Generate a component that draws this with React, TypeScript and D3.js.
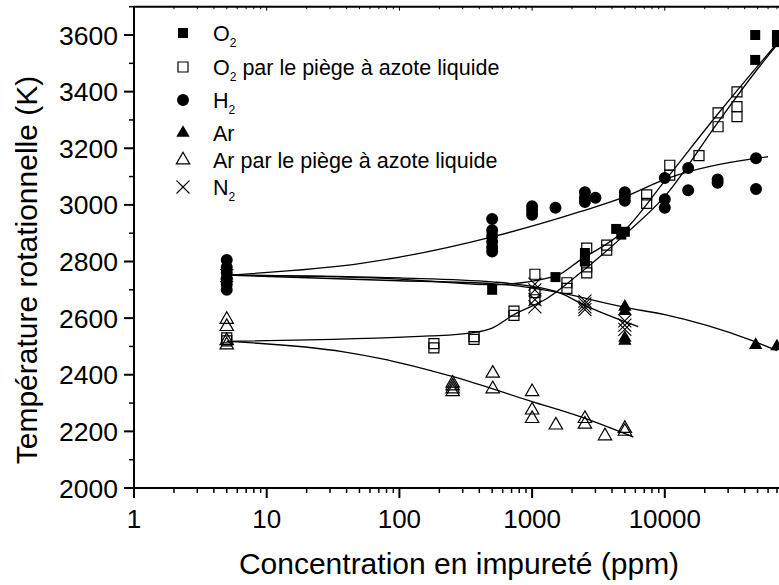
import React from "react";
import * as d3 from "d3";

// ---- data ----
const o2X = [5, 500, 1500, 2500, 2500, 4300, 4700, 5000, 48000, 48000, 70000, 70000];
const o2Y = [2750, 2700, 2745, 2830, 2800, 2915, 2895, 2905, 3600, 3512, 3600, 3575];

const o2TrapX = [5, 5, 182, 182, 365, 365, 730, 730, 1050, 1050, 1050, 1830, 1830, 2580, 2580, 2580, 3650, 3650, 7300, 7300, 10900, 10900, 18100, 25200, 25200, 35000, 35000, 35000];
const o2TrapY = [2520, 2530, 2510, 2495, 2535, 2525, 2625, 2610, 2755, 2690, 2665, 2725, 2705, 2847, 2781, 2760, 2858, 2840, 3035, 3005, 3140, 3105, 3174, 3325, 3276, 3399, 3347, 3312];

const h2X = [5, 5, 5, 5, 5, 5, 500, 500, 500, 500, 500, 500, 1000, 1000, 1000, 1500, 2500, 2500, 2500, 3000, 5000, 5000, 5000, 10000, 10000, 10000, 15000, 15000, 25000, 25000, 48700, 48700];
const h2Y = [2700, 2720, 2740, 2760, 2780, 2805, 2950, 2910, 2890, 2870, 2850, 2835, 2995, 2980, 2965, 2990, 3045, 3025, 3010, 3025, 3045, 3030, 3015, 3095, 3020, 2990, 3130, 3052, 3090, 3078, 3165, 3056];

const arX = [5, 5000, 5000, 5000, 5000, 48400, 70000];
const arY = [2750, 2640, 2625, 2530, 2520, 2505, 2500];

const arTrapX = [5, 5, 5, 5, 252, 252, 252, 252, 505, 505, 1000, 1000, 1000, 1510, 2500, 2500, 3540, 5000, 5000];
const arTrapY = [2595, 2570, 2520, 2505, 2370, 2360, 2350, 2340, 2405, 2350, 2340, 2275, 2245, 2222, 2245, 2225, 2184, 2210, 2200];

const n2X = [5, 1050, 1050, 1050, 1050, 2500, 2500, 2500, 2500, 5000, 5000, 5000];
const n2Y = [2750, 2720, 2700, 2665, 2640, 2660, 2650, 2640, 2630, 2590, 2575, 2560];

// fitted curves
const fitO2X = [5, 100, 500, 1500, 2300, 5000, 10000, 25000, 50000, 70000];
const fitO2Y = [2752, 2738, 2718, 2748, 2805, 2911, 3085, 3320, 3490, 3570];
const fitO2TrapX = [5, 170, 350, 500, 720, 1300, 2300, 5000, 10000, 25000, 50000, 70000];
const fitO2TrapY = [2518, 2537, 2548, 2565, 2611, 2670, 2759, 2895, 3030, 3290, 3480, 3565];
const fitH2X = [5, 53, 510, 2300, 5100, 10000, 50000, 60000];
const fitH2Y = [2752, 2794, 2888, 2976, 3030, 3090, 3165, 3170];
const fitArX = [5, 100, 500, 1600, 5000, 10000, 44000, 70000];
const fitArY = [2752, 2732, 2722, 2690, 2638, 2612, 2523, 2485];
const fitArTrapX = [5, 38, 71, 254, 1000, 2300, 5800];
const fitArTrapY = [2518, 2481, 2458, 2393, 2305, 2252, 2180];
const fitN2X = [5, 100, 500, 1000, 1600, 2500, 6300];
const fitN2Y = [2752, 2742, 2728, 2712, 2690, 2645, 2570];

const yTicks = [2000, 2200, 2400, 2600, 2800, 3000, 3200, 3400, 3600];
const xTicks = [1, 10, 100, 1000, 10000];
const xTickLabels = ["1", "10", "100", "1000", "10000"];

const legendLabels = [
  { main: "O", sub: "2", rest: "", kind: "sqF" },
  { main: "O", sub: "2", rest: " par le piège à azote liquide", kind: "sqO" },
  { main: "H", sub: "2", rest: "", kind: "circ" },
  { main: "Ar", sub: "", rest: "", kind: "triF" },
  { main: "Ar par le piège à azote liquide", sub: "", rest: "", kind: "triO" },
  { main: "N", sub: "2", rest: "", kind: "x" },
];

const FONT = "'Liberation Sans', Arial, Helvetica, sans-serif";

export default function App() {
  const W = 779, H = 585;
  const left = 134, bottom = 488, top = 6.7;
  const x = d3.scaleLog().domain([1, Math.pow(10, 645 / 132.7)]).range([left, 779]);
  const y = d3.scaleLinear().domain([2000, 3700]).range([bottom, top]);

  const sq = d3.symbol().type(d3.symbolSquare).size(100)()!;
  const circ = d3.symbol().type(d3.symbolCircle).size(113)()!;
  const tri = d3.symbol().type(d3.symbolTriangle).size(78)()!;
  const s = 6.5;
  const xPath = `M${-s},${-s}L${s},${s}M${-s},${s}L${s},${-s}`;

  const symbolFor = (kind: string, key: string | number, tx: number, ty: number) => {
    const t = `translate(${tx},${ty})`;
    switch (kind) {
      case "sqF": return <path key={key} d={sq} transform={t} fill="#000" />;
      case "sqO": return <path key={key} d={sq} transform={t} fill="none" stroke="#000" strokeWidth={1.2} />;
      case "circ": return <path key={key} d={circ} transform={t} fill="#000" />;
      case "triF": return <path key={key} d={tri} transform={t} fill="#000" />;
      case "triO": return <path key={key} d={tri} transform={t} fill="none" stroke="#000" strokeWidth={1.2} />;
      default: return <path key={key} d={xPath} transform={t} fill="none" stroke="#000" strokeWidth={1.1} />;
    }
  };

  const series = [
    { xs: h2X, ys: h2Y, kind: "circ" },
    { xs: o2X, ys: o2Y, kind: "sqF" },
    { xs: o2TrapX, ys: o2TrapY, kind: "sqO" },
    { xs: arX, ys: arY, kind: "triF" },
    { xs: arTrapX, ys: arTrapY, kind: "triO" },
    { xs: n2X, ys: n2Y, kind: "x" },
  ];
  const fits = [
    [fitO2X, fitO2Y], [fitO2TrapX, fitO2TrapY], [fitH2X, fitH2Y],
    [fitArX, fitArY], [fitArTrapX, fitArTrapY], [fitN2X, fitN2Y],
  ];
  const line = d3.line<[number, number]>()
    .x((d) => x(d[0]))
    .y((d) => y(d[1]))
    .curve(d3.curveMonotoneX);

  const minorX: number[] = [];
  for (let e = 0; e < 5; e++) for (let m = 2; m <= 9; m++) minorX.push(m * Math.pow(10, e));
  const minorY = d3.range(2100, 3701, 200);

  return (
    <svg width={W} height={H} style={{ position: "absolute", left: 0, top: 0, background: "#fff" }}
      fontFamily={FONT}>
      <rect x={0} y={0} width={W} height={H} fill="#fff" />
      {/* markers */}
      {series.map((sr, i) => (
        <g key={i}>
          {sr.xs.map((xv, j) => symbolFor(sr.kind, j, x(xv), y(sr.ys[j])))}
        </g>
      ))}
      {/* fits */}
      {fits.map((f, i) => (
        <path key={i} d={line(f[0].map((v, j) => [v, f[1][j]] as [number, number]))!}
          fill="none" stroke="#000" strokeWidth={1.3} />
      ))}
      {/* axes */}
      <line x1={left} x2={W} y1={bottom} y2={bottom} stroke="#000" strokeWidth={2} />
      <line x1={left} x2={W} y1={top} y2={top} stroke="#000" strokeWidth={2} />
      <line x1={left} x2={left} y1={top} y2={bottom + 1} stroke="#000" strokeWidth={2} />
      {xTicks.map((t, i) => (
        <g key={i}>
          <line x1={x(t)} x2={x(t)} y1={bottom} y2={bottom + 10} stroke="#000" strokeWidth={2} />
          <line x1={x(t)} x2={x(t)} y1={top} y2={top + 4} stroke="#000" strokeWidth={1} />
          <text x={x(t)} y={528} textAnchor="middle" fontSize={26}>{xTickLabels[i]}</text>
        </g>
      ))}
      {minorX.map((t, i) => (
        <g key={"m" + i}>
          <line x1={x(t)} x2={x(t)} y1={bottom} y2={bottom + 5} stroke="#000" strokeWidth={1.5} />
          <line x1={x(t)} x2={x(t)} y1={top} y2={top + 2.5} stroke="#000" strokeWidth={1} />
        </g>
      ))}
      {yTicks.map((t, i) => (
        <g key={i}>
          <line x1={left - 10} x2={left} y1={y(t)} y2={y(t)} stroke="#000" strokeWidth={2} />
          <text x={118} y={y(t)} dy="0.36em" textAnchor="end" fontSize={26.5}>{t}</text>
        </g>
      ))}
      {minorY.map((t, i) => (
        <line key={"my" + i} x1={left - 5} x2={left} y1={y(t)} y2={y(t)} stroke="#000" strokeWidth={1.5} />
      ))}
      {/* titles */}
      <text x={459} y={574} textAnchor="middle" fontSize={30}>Concentration en impureté (ppm)</text>
      <text transform="translate(37,270) rotate(-90)" textAnchor="middle" fontSize={30}>Température rotationnelle (K)</text>
      {/* legend */}
      {legendLabels.map((l, i) => {
        const ly = [33, 67, 100, 133, 160, 187][i];
        return (
          <g key={"lg" + i}>
            {symbolFor(l.kind, "s", 183, ly)}
            <text x={213} y={ly} dy="0.36em" fontSize={21.5}>
              {l.main}
              {l.sub ? <tspan fontSize={12} dy={6}>{l.sub}</tspan> : null}
              {l.rest ? <tspan dy={-6}>{l.rest}</tspan> : null}
            </text>
          </g>
        );
      })}
    </svg>
  );
}
